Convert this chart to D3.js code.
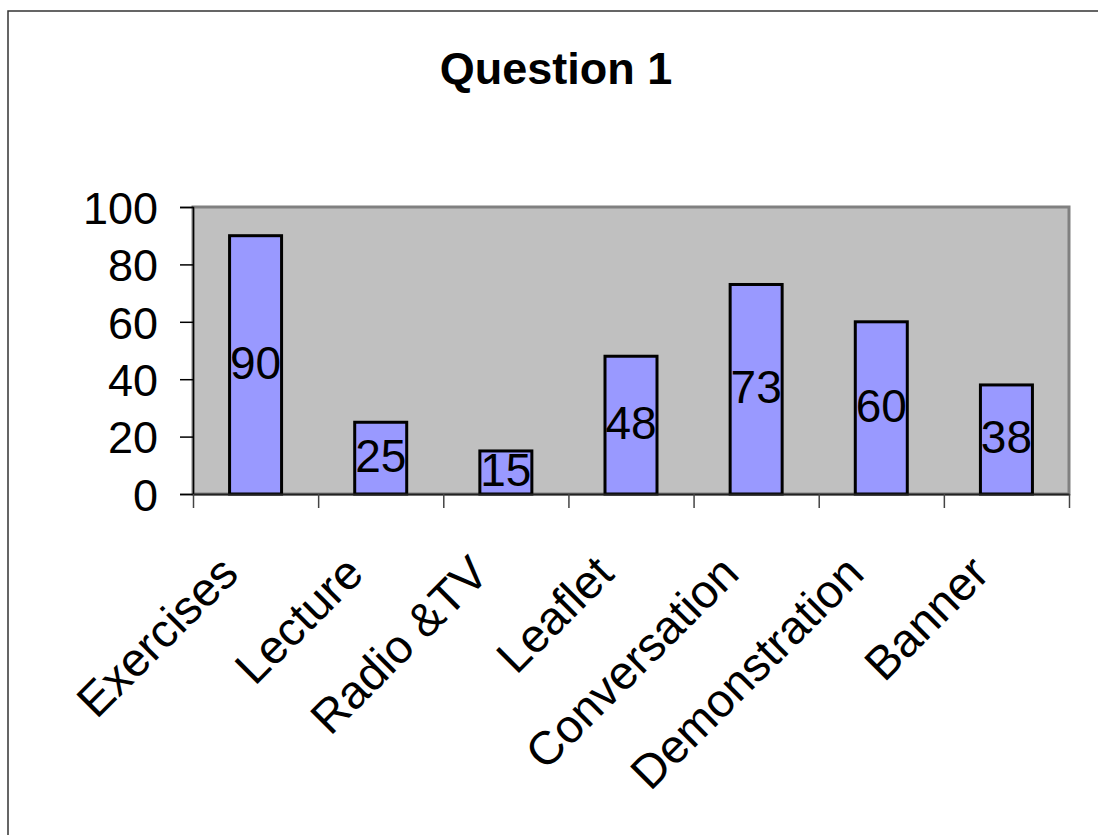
<!DOCTYPE html>
<html>
<head>
<meta charset="utf-8">
<script src="https://cdn.jsdelivr.net/npm/d3@7"></script>
<style>
  html, body { margin: 0; padding: 0; background: #fff; }
  svg { display: block; font-family: 'Liberation Sans', Arial, sans-serif; }
</style>
</head>
<body>
<svg id="chart"></svg>
<script>
const categories = ['Exercises', 'Lecture', 'Radio &TV', 'Leaflet', 'Conversation', 'Demonstration', 'Banner'];
const values = [90, 25, 15, 48, 73, 60, 38];
const yTicks = [0, 20, 40, 60, 80, 100];
const title = 'Question 1';

const w = 1098;
const h = 835;

// plot area box
const plotLeft = 193;
const plotRight = 1069;
const plotTop = 207;
const plotBottom = 494;

const svg = d3.select('#chart').attr('width', w).attr('height', h);

// outer chart border (runs off the right and bottom edges)
svg.append('rect')
  .attr('x', 8).attr('y', 11)
  .attr('width', w + 20).attr('height', h + 20)
  .attr('fill', 'none')
  .attr('stroke', '#333')
  .attr('stroke-width', 1.5);

svg.append('text')
  .attr('x', 556).attr('y', 84)
  .attr('text-anchor', 'middle')
  .attr('font-size', 45)
  .attr('font-weight', 'bold')
  .text(title);

const p = 1 - 52 / ((plotRight - plotLeft) / categories.length);
const xScale = d3.scaleBand()
  .domain(categories)
  .range([plotLeft, plotRight])
  .paddingInner(p)
  .paddingOuter(p / 2);

const xEdges = d3.scaleLinear().domain([0, categories.length]).range([plotLeft, plotRight]);

const yScale = d3.scaleLinear().domain([0, 100]).range([plotBottom, plotTop]);

// grey plot area
svg.append('rect')
  .attr('x', plotLeft).attr('y', plotTop)
  .attr('width', plotRight - plotLeft).attr('height', plotBottom - plotTop)
  .attr('fill', '#c0c0c0')
  .attr('stroke', '#808080')
  .attr('stroke-width', 3);

// bars
svg.selectAll('rect.bar')
  .data(values)
  .enter()
  .append('rect')
  .attr('class', 'bar')
  .attr('x', (d, i) => xScale(categories[i]))
  .attr('y', (d) => yScale(d))
  .attr('width', xScale.bandwidth())
  .attr('height', (d) => yScale(0) - yScale(d))
  .attr('fill', '#9999ff')
  .attr('stroke', '#000')
  .attr('stroke-width', 3);

// y axis
const yAxis = d3.axisLeft(yScale).tickValues(yTicks).tickSize(13).tickPadding(22);
const yG = svg.append('g').attr('transform', `translate(${plotLeft}, 0)`).call(yAxis);
yG.select('.domain').attr('stroke', '#000').attr('stroke-width', 1.5);
yG.selectAll('.tick line').attr('stroke', '#000').attr('stroke-width', 1.5);
yG.selectAll('.tick text')
  .attr('font-size', 45)
  .attr('font-family', "'Liberation Sans', Arial, sans-serif")
  .attr('fill', '#000')
  .attr('dy', '0.36em');

// x axis: ticks sit on the category edges
const xAxis = d3.axisBottom(xEdges)
  .tickValues(d3.range(categories.length + 1))
  .tickFormat('')
  .tickSize(14)
  .tickSizeOuter(0);
const xG = svg.append('g').attr('transform', `translate(0, ${plotBottom})`).call(xAxis);
xG.select('.domain').attr('stroke', '#222').attr('stroke-width', 2);
xG.selectAll('.tick line').attr('stroke', '#444').attr('stroke-width', 1.5);

// category labels, rotated
svg.selectAll('text.cat')
  .data(categories)
  .enter()
  .append('text')
  .attr('class', 'cat')
  .attr('text-anchor', 'end')
  .attr('font-size', 47)
  .attr('transform', (d) => {
    const cx = xScale(d) + xScale.bandwidth() / 2 - 15;
    return `translate(${cx}, ${plotBottom + 82}) rotate(-45)`;
  })
  .text((d) => d);

// value labels centred in each bar
svg.selectAll('text.val')
  .data(values)
  .enter()
  .append('text')
  .attr('class', 'val')
  .attr('text-anchor', 'middle')
  .attr('font-size', 46)
  .attr('x', (d, i) => xScale(categories[i]) + xScale.bandwidth() / 2)
  .attr('y', (d) => (yScale(d) + yScale(0)) / 2)
  .attr('dy', '0.3em')
  .text((d) => d);
</script>
</body>
</html>
